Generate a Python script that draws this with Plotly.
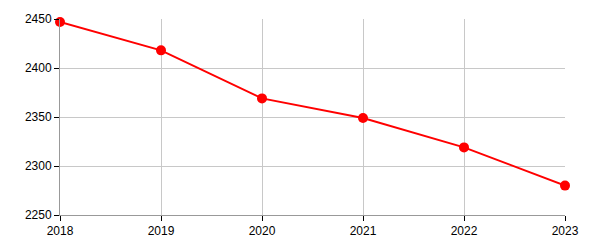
import plotly.graph_objects as go

years = [2018, 2019, 2020, 2021, 2022, 2023]
values = [2447, 2418, 2369, 2349, 2319, 2280]
y_ticks = [2250, 2300, 2350, 2400, 2450]

fig = go.Figure()
fig.add_trace(go.Scatter(
    x=years, y=values, mode="lines+markers",
    line=dict(color="#ff0000", width=2),
    marker=dict(color="#ff0000", size=10),
    cliponaxis=False,
))
fig.update_layout(
    width=600, height=250,
    margin=dict(l=60, r=35, t=15, b=33),
    plot_bgcolor="white", paper_bgcolor="white",
    showlegend=False,
    font=dict(family="Liberation Sans, Arial, sans-serif", size=12, color="black"),
)
fig.update_xaxes(
    range=[2018, 2023], tickvals=years, ticktext=[str(y) for y in years],
    showgrid=True, gridcolor="#c8c8c8", gridwidth=1,
    showline=True, linecolor="#999999", linewidth=1,
    ticks="outside", ticklen=5, tickcolor="#000000",
    zeroline=False,
)
fig.update_yaxes(
    range=[2250, 2450], tickvals=y_ticks,
    showgrid=True, gridcolor="#c8c8c8", gridwidth=1,
    showline=True, linecolor="#999999", linewidth=1,
    ticks="outside", ticklen=5, tickcolor="#000000",
    zeroline=False,
)
fig.write_html("out.html")
